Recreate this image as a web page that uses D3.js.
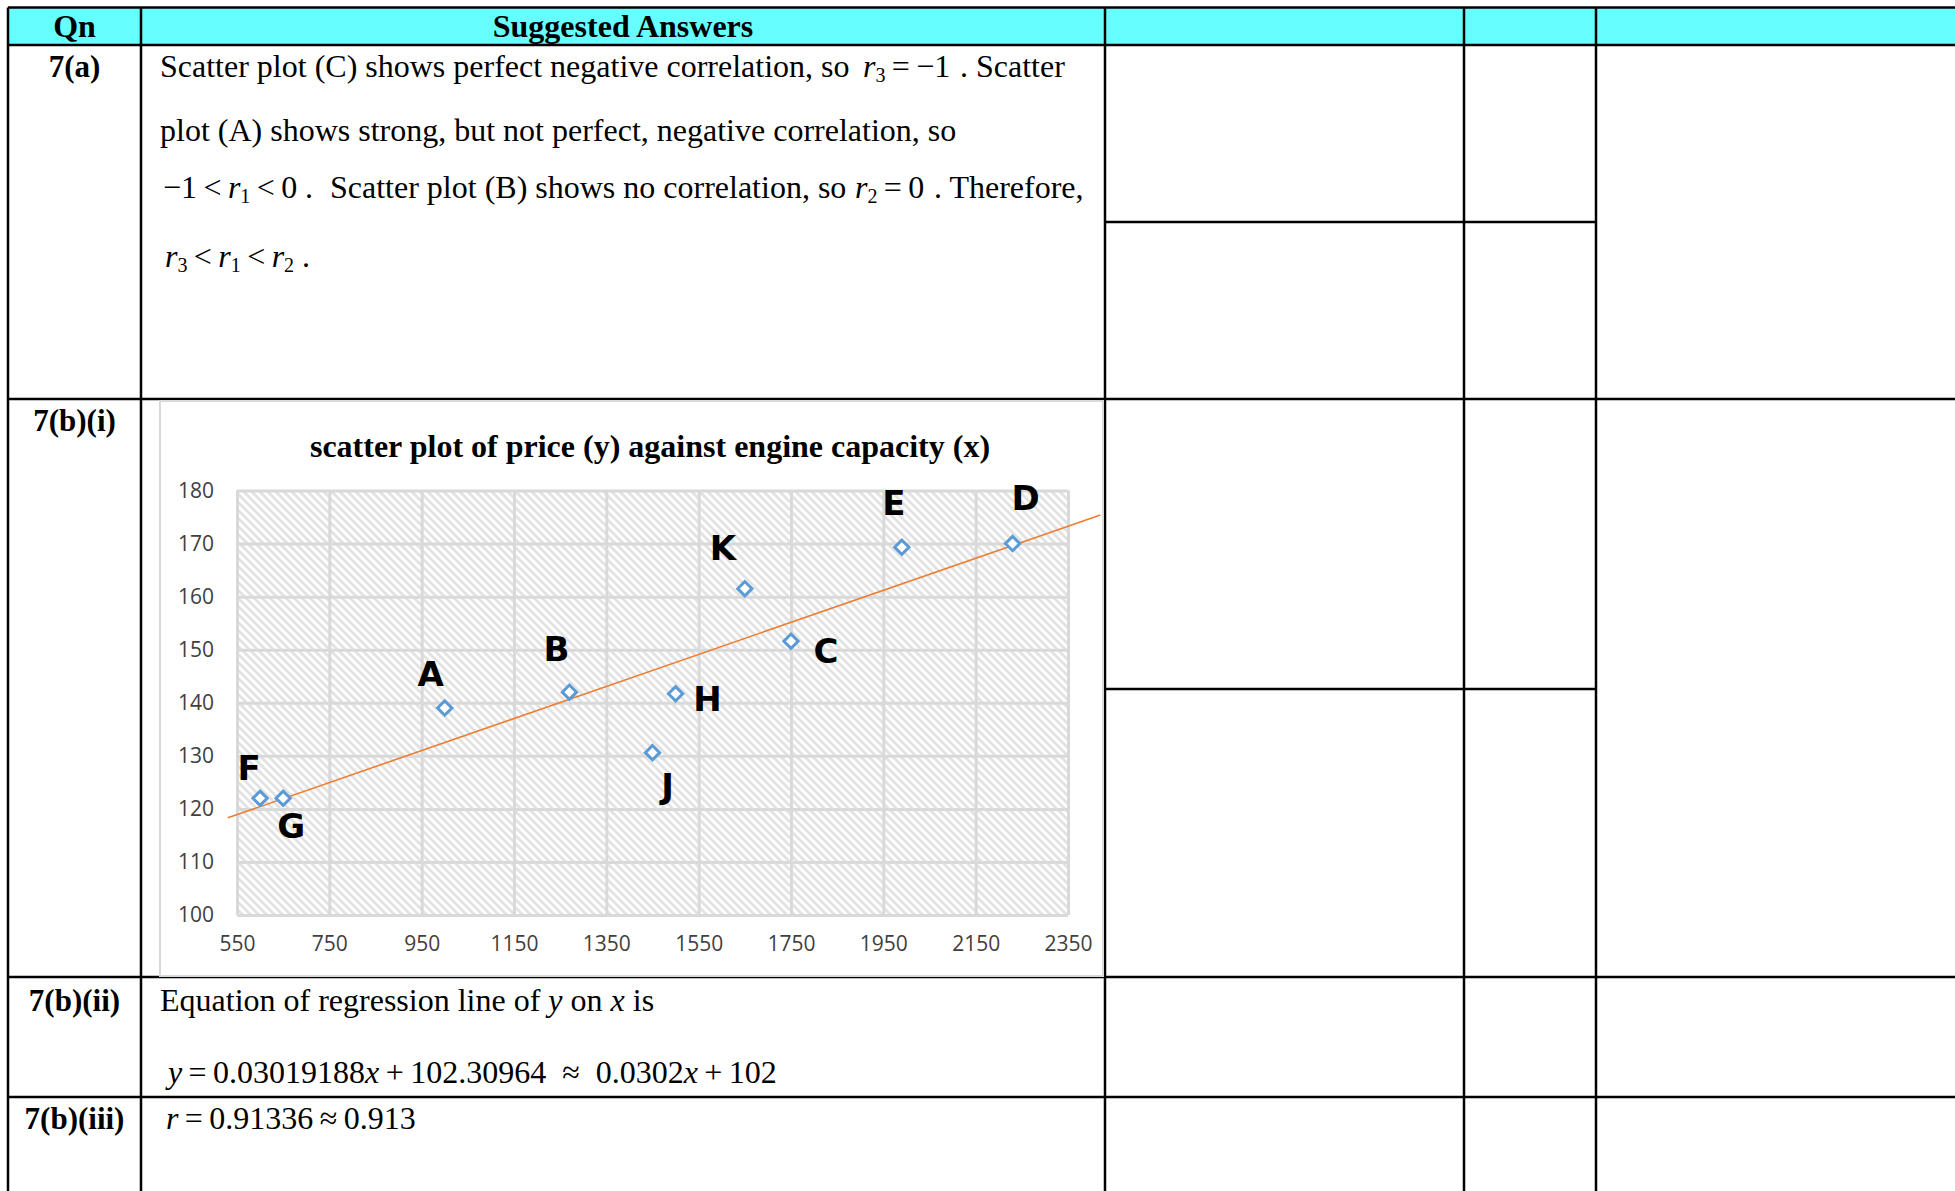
<!DOCTYPE html>
<html>
<head>
<meta charset="utf-8">
<script src="https://cdn.jsdelivr.net/npm/d3@7"></script>
<style>
body { margin: 0; background: #fff; }
svg { display: block; }
.serif { font-family: "Liberation Serif", "Times New Roman", serif; }
.tick text { font-family: "Open Sans", sans-serif; font-size: 21px; fill: #404040; }
</style>
</head>
<body>
<svg id="s1"></svg>
<script>
// chart values
var pointNames = ["F", "G", "A", "B", "J", "H", "K", "C", "E", "D"];
var engineCapacity = [600, 650, 1000, 1270, 1450, 1500, 1650, 1750, 1990, 2230];
var price = [122, 122, 139, 142, 130.6, 141.7, 161.5, 151.6, 169.3, 170];
var xTicks = [550, 750, 950, 1150, 1350, 1550, 1750, 1950, 2150, 2350];
var yTicks = [100, 110, 120, 130, 140, 150, 160, 170, 180];
var slope = 0.03019188;
var intercept = 102.30964;
var lineExtent = [530, 2420];
var chartTitle = "scatter plot of price (y) against engine capacity (x)";

// where the hand-written letters sit relative to their point
var labelOffsets = [[-11, -30], [8, 28], [-14, -34], [-13, -43], [15, 33], [32, 5], [-22, -41], [35, 10], [-8, -44], [13, -46]];

var width = 1955;
var height = 1191;

var svg = d3.select("#s1").attr("width", width).attr("height", height);

// ---------- table ----------
var colX = [8, 141, 1105, 1464, 1596];
var headTop = 7.5, headBottom = 45;
var rowLines = [399, 977, 1097];

svg.append("rect")
    .attr("x", colX[0]).attr("y", headTop)
    .attr("width", width - colX[0]).attr("height", headBottom - headTop)
    .attr("fill", "#66ffff");

var lines = svg.append("g").attr("stroke", "#000").attr("stroke-width", 2.5);

// horizontal rules across the whole table
[headTop, headBottom].concat(rowLines).forEach(function (y) {
    lines.append("line").attr("x1", colX[0]).attr("x2", width).attr("y1", y).attr("y2", y);
});
// short rules only in the two marks columns
[222, 689].forEach(function (y) {
    lines.append("line").attr("x1", colX[2]).attr("x2", colX[4]).attr("y1", y).attr("y2", y);
});
colX.forEach(function (x) {
    lines.append("line").attr("x1", x).attr("x2", x).attr("y1", headTop).attr("y2", height);
});

svg.append("text").attr("class", "serif")
    .attr("x", (colX[0] + colX[1]) / 2).attr("y", 26)
    .attr("text-anchor", "middle").attr("dominant-baseline", "central")
    .style("font-size", "32px").style("font-weight", "bold")
    .text("Qn");
svg.append("text").attr("class", "serif")
    .attr("x", (colX[1] + colX[2]) / 2).attr("y", 26)
    .attr("text-anchor", "middle").attr("dominant-baseline", "central")
    .style("font-size", "32px").style("font-weight", "bold")
    .text("Suggested Answers");

var qnLabels = [["7(a)", 66], ["7(b)(i)", 420], ["7(b)(ii)", 1000], ["7(b)(iii)", 1118]];
qnLabels.forEach(function (q) {
    svg.append("text").attr("class", "serif")
        .attr("x", (colX[0] + colX[1]) / 2).attr("y", q[1])
        .attr("text-anchor", "middle").attr("dominant-baseline", "central")
        .style("font-size", "31px").style("font-weight", "bold")
        .text(q[0]);
});

// ---------- answer text ----------
// runs: [text, style, x] ; style: "" plain, "i" italic, "s" subscript
function writeLine(x, y, runs) {
    var t = svg.append("text").attr("class", "serif")
        .attr("x", x).attr("y", y)
        .attr("dominant-baseline", "central")
        .style("font-size", "32px").style("fill", "#000");
    var lowered = false;
    runs.forEach(function (r) {
        var ts = t.append("tspan").text(r[0]);
        if (r[2] !== undefined) ts.attr("x", r[2]);
        if (r[1] === "i") ts.style("font-style", "italic");
        if (r[1] === "s") {
            ts.style("font-size", "20px");
            if (!lowered) { ts.attr("dy", 9); lowered = true; }
        } else if (lowered) {
            ts.attr("dy", -9); lowered = false;
        }
    });
}

var nb = "\u00a0", th = "\u2009";
writeLine(160, 66, [["Scatter plot (C) shows perfect negative correlation, so"], ["r", "i", 863], ["3", "s"], [th + "=" + th + "\u22121"], [". Scatter", "", 960]]);
writeLine(160, 130, [["plot (A) shows strong, but not perfect, negative correlation, so"]]);
writeLine(163, 187, [["\u22121" + th + "<" + th], ["r", "i"], ["1", "s"], [th + "<" + th + "0"], [".", "", 305], ["Scatter plot (B) shows no correlation, so", "", 330], ["r", "i", 855], ["2", "s"], [th + "=" + th + "0"], [". Therefore,", "", 934]]);
writeLine(165, 256, [["r", "i"], ["3", "s"], [th + "<" + th], ["r", "i"], ["1", "s"], [th + "<" + th], ["r", "i"], ["2", "s"], [" ."]]);

writeLine(160, 1000, [["Equation of regression line of "], ["y", "i"], [" on "], ["x", "i"], [" is"]]);
writeLine(168, 1072, [["y", "i"], [th + "=" + th + "0.03019188"], ["x", "i"], [th + "+" + th + "102.30964" + nb + nb + "\u2248" + nb + nb + "0.0302"], ["x", "i"], [th + "+" + th + "102"]]);
writeLine(166, 1118, [["r", "i"], [th + "=" + th + "0.91336" + th + "\u2248" + th + "0.913"]]);

// ---------- chart ----------
svg.append("rect")
    .attr("x", 160).attr("y", 401).attr("width", 943).attr("height", 575)
    .attr("fill", "#fff").attr("stroke", "#d9d9d9").attr("stroke-width", 2);

svg.append("text").attr("class", "serif")
    .attr("x", 650).attr("y", 446)
    .attr("text-anchor", "middle").attr("dominant-baseline", "central")
    .style("font-size", "32px").style("font-weight", "bold")
    .text(chartTitle);

var x = d3.scaleLinear().domain([550, 2350]).range([237, 1068]);
var y = d3.scaleLinear().domain([100, 180]).range([915, 490.5]);

var defs = svg.append("defs");
var pat = defs.append("pattern").attr("id", "hatch")
    .attr("patternUnits", "userSpaceOnUse").attr("width", 8).attr("height", 8);
pat.append("rect").attr("width", 8).attr("height", 8).attr("fill", "#fff");
pat.append("path").attr("d", "M0,0L8,8M-2,6L2,10M6,-2L10,2")
    .attr("stroke", "#e2e2e2").attr("stroke-width", 2.8);

svg.append("rect")
    .attr("x", x(550)).attr("y", y(180))
    .attr("width", x(2350) - x(550)).attr("height", y(100) - y(180))
    .attr("fill", "url(#hatch)");

// gridlines
svg.append("g")
    .attr("transform", "translate(0," + y(100) + ")")
    .call(d3.axisBottom(x).tickValues(xTicks).tickSize(-(y(100) - y(180))).tickFormat(""))
    .call(function (g) { g.select(".domain").remove(); })
    .selectAll("line").attr("stroke", "#d9d9d9").attr("stroke-width", 3);
svg.append("g")
    .attr("transform", "translate(" + x(550) + ",0)")
    .call(d3.axisLeft(y).tickValues(yTicks).tickSize(-(x(2350) - x(550))).tickFormat(""))
    .call(function (g) { g.select(".domain").remove(); })
    .selectAll("line").attr("stroke", "#d9d9d9").attr("stroke-width", 3);

// tick labels
svg.append("g")
    .attr("transform", "translate(" + x(550) + ",0)")
    .call(d3.axisLeft(y).tickValues(yTicks).tickSize(0).tickPadding(23).tickFormat(d3.format("d")))
    .call(function (g) { g.select(".domain").remove(); });
svg.append("g")
    .attr("transform", "translate(0," + y(100) + ")")
    .call(d3.axisBottom(x).tickValues(xTicks).tickSize(0).tickPadding(21).tickFormat(d3.format("d")))
    .call(function (g) { g.select(".domain").remove(); });

// regression line
svg.append("line")
    .attr("x1", x(lineExtent[0])).attr("y1", y(slope * lineExtent[0] + intercept))
    .attr("x2", x(lineExtent[1])).attr("y2", y(slope * lineExtent[1] + intercept))
    .attr("stroke", "#ed7d31").attr("stroke-width", 1.6);

var points = pointNames.map(function (n, i) {
    return { name: n, cap: engineCapacity[i], price: price[i], off: labelOffsets[i] };
});

svg.selectAll("path.pt")
    .data(points)
    .enter().append("path")
    .attr("class", "pt")
    .attr("d", d3.symbol().type(d3.symbolDiamond2).size(130))
    .attr("transform", function (d) {
        return "translate(" + x(d.cap) + "," + y(d.price) + ")";
    })
    .attr("fill", "#fff").attr("stroke", "#5b9bd5").attr("stroke-width", 3);

svg.selectAll("text.lbl")
    .data(points)
    .enter().append("text")
    .attr("class", "lbl")
    .attr("x", function (d) { return x(d.cap) + d.off[0]; })
    .attr("y", function (d) { return y(d.price) + d.off[1]; })
    .attr("text-anchor", "middle").attr("dominant-baseline", "central")
    .style("font-family", "'DejaVu Sans', sans-serif")
    .style("font-size", "34px").style("font-weight", "bold")
    .text(function (d) { return d.name; });
</script>
</body>
</html>
